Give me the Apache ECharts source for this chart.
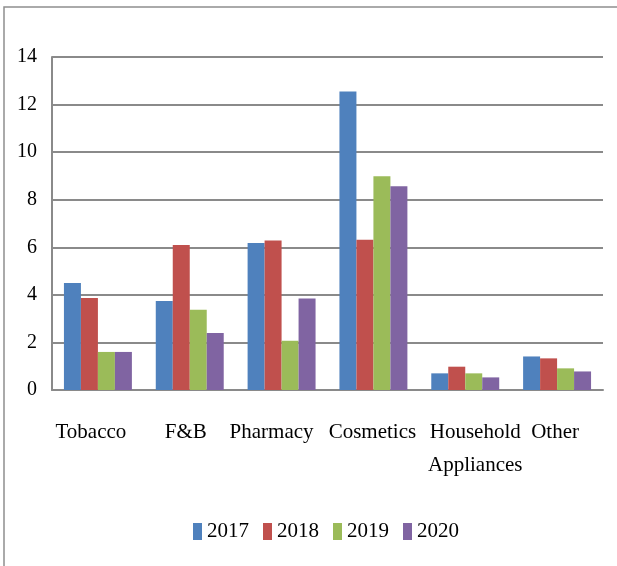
<!DOCTYPE html>
<html>
<head>
<meta charset="utf-8">
<script src="https://cdn.jsdelivr.net/npm/echarts@6/dist/echarts.min.js"></script>
<style>
  html, body { margin: 0; padding: 0; background: #fff; }
  #main { width: 617px; height: 566px; }
</style>
</head>
<body>
<div id="main"></div>
<script>
// data
var categories = ['Tobacco', 'F&B', 'Pharmacy', 'Cosmetics', 'Household\nAppliances', 'Other']
var years = ['2017', '2018', '2019', '2020']
var v2017 = [4.5, 3.74, 6.18, 12.55, 0.7, 1.41]
var v2018 = [3.87, 6.1, 6.29, 6.32, 0.98, 1.33]
var v2019 = [1.6, 3.37, 2.07, 8.99, 0.7, 0.91]
var v2020 = [1.6, 2.4, 3.85, 8.57, 0.53, 0.78]
var yTicks = [0, 2, 4, 6, 8, 10, 12, 14]

var colors = ['#4F81BD', '#C0504D', '#9BBB59', '#8064A2']
var font = 'Liberation Serif'
// small horizontal nudges so labels sit like the original
var labelShift = [-7, -4, -10, -1, 10, -2]

var myChart = echarts.init(document.getElementById('main'))

var seriesData = [v2017, v2018, v2019, v2020]
var series = years.map(function (y, i) {
  return {
    name: y,
    type: 'bar',
    data: seriesData[i],
    barGap: '0%',
    barCategoryGap: '26%',
    itemStyle: { color: colors[i] }
  }
})

var xData = categories.map(function (c, i) {
  var s = labelShift[i]
  return {
    value: c,
    textStyle: { padding: s >= 0 ? [0, 0, 0, 2 * s] : [0, -2 * s, 0, 0] }
  }
})

var option = {
  animation: false,
  color: colors,
  textStyle: { fontFamily: font },
  grid: { left: 52, right: 14, top: 57, bottom: 176 },
  // frame around the chart (only left and top edges show)
  graphic: [{
    type: 'rect',
    shape: { x: 4, y: 7, width: 700, height: 700 },
    style: { fill: 'none', stroke: '#8f8f8f', lineWidth: 1.5 },
    silent: true
  }],
  legend: {
    data: years,
    top: 516,
    left: 188,
    icon: 'rect',
    itemWidth: 9,
    itemHeight: 17,
    itemGap: 14,
    textStyle: { fontFamily: font, fontSize: 21, color: '#000' }
  },
  xAxis: {
    type: 'category',
    data: xData,
    axisLine: { lineStyle: { color: '#8a8a8a', width: 2 } },
    axisTick: { show: false },
    axisLabel: {
      interval: 0,
      margin: 26,
      fontFamily: font,
      fontSize: 21,
      lineHeight: 33,
      color: '#000'
    }
  },
  yAxis: {
    type: 'value',
    min: yTicks[0],
    max: yTicks[yTicks.length - 1],
    interval: 2,
    axisLine: { show: true, lineStyle: { color: '#8a8a8a', width: 2 } },
    axisTick: { show: false },
    splitLine: { lineStyle: { color: '#8a8a8a', width: 2 } },
    axisLabel: {
      margin: 15,
      fontFamily: font,
      fontSize: 20,
      color: '#000'
    }
  },
  series: series
}

myChart.setOption(option)
</script>
</body>
</html>
